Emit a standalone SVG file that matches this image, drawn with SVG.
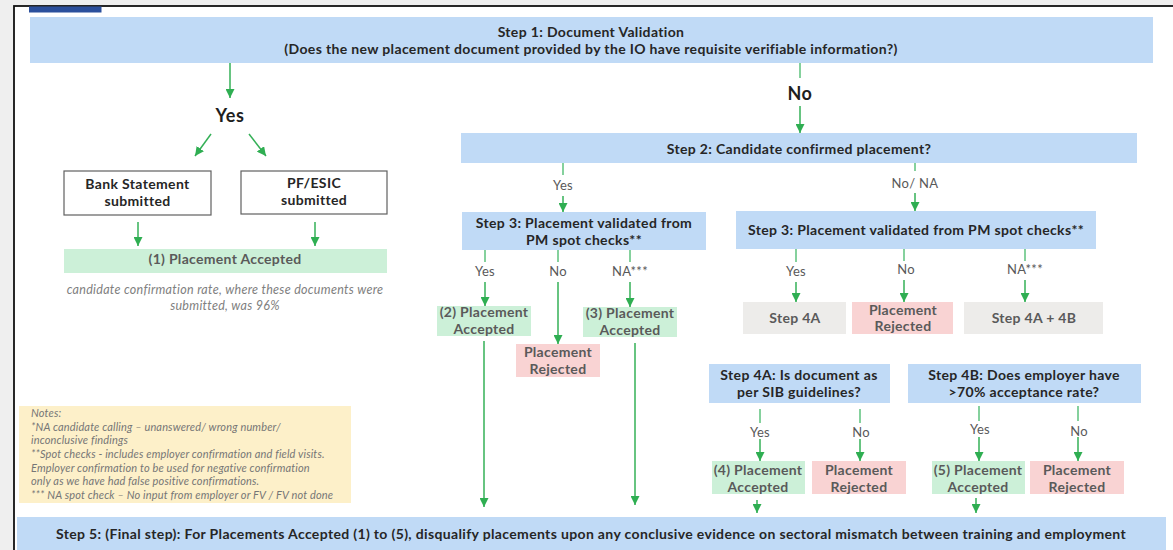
<svg xmlns="http://www.w3.org/2000/svg" width="1173" height="550" viewBox="0 0 1173 550">
  <defs>
    <marker id="ah" viewBox="0 0 10 10" refX="10" refY="5" markerWidth="9" markerHeight="9" markerUnits="userSpaceOnUse" orient="auto">
      <path d="M0,0 L10,5 L0,10 z" fill="#2fae52"/>
    </marker>
    <style>
      text { font-family: Lato, "Liberation Sans", Arial, sans-serif; }
      .step { fill: #c0daf6; }
      .hd { font-size: 14px; letter-spacing: 0.35px; font-weight: bold; fill: #262626; text-anchor: middle; }
      .big { font-size: 18px; letter-spacing: 0.6px; font-weight: bold; fill: #1e1e1e; text-anchor: middle; }
      .lbl { font-size: 13px; letter-spacing: 0.3px; fill: #595959; text-anchor: middle; }
      .res { font-size: 14px; letter-spacing: 0.3px; font-weight: bold; fill: #5a5a5a; text-anchor: middle; }
      .ok { fill: #ccf0d8; }
      .bad { fill: #f9d3d3; }
      .grey { fill: #edecea; }
      .doc { fill: #ffffff; stroke: #606060; stroke-width: 1.2; }
      .note { font-size: 11px; letter-spacing: 0.15px; font-style: italic; fill: #767676; }
      .cap { font-size: 12.5px; letter-spacing: 0.3px; font-style: italic; fill: #808080; text-anchor: middle; }
      .ln { stroke: #5cc27c; stroke-width: 1.5; fill: none; }
      .ar { stroke: #35b057; stroke-width: 1.5; fill: none; marker-end: url(#ah); }
    </style>
  </defs>

  <!-- page background and frame -->
  <rect x="0" y="0" width="1173" height="550" fill="#efefef"/>
  <rect x="14" y="6" width="1170" height="560" fill="#ffffff" stroke="#111111" stroke-width="1.8"/>
  <rect x="29" y="6.5" width="72.5" height="6" fill="#2b4f9c"/>

  <!-- connectors -->
  <g id="connectors">
    <line class="ar" x1="230" y1="63" x2="230" y2="98"/>
    <line class="ln" x1="800" y1="63" x2="800" y2="78"/>
    <line class="ar" x1="800" y1="106" x2="800" y2="133"/>
    <line class="ar" x1="211" y1="134" x2="195" y2="156"/>
    <line class="ar" x1="249" y1="134" x2="266" y2="156"/>
    <line class="ar" x1="138" y1="222" x2="138" y2="246"/>
    <line class="ar" x1="315" y1="222" x2="315" y2="246"/>

    <line class="ln" x1="563" y1="163" x2="563" y2="175"/>
    <line class="ar" x1="563" y1="196" x2="563" y2="212"/>
    <line class="ln" x1="915" y1="163" x2="915" y2="171"/>
    <line class="ar" x1="915" y1="193" x2="915" y2="211"/>

    <line class="ln" x1="485" y1="250" x2="485" y2="262"/>
    <line class="ar" x1="485" y1="282" x2="485" y2="306"/>
    <line class="ln" x1="558" y1="250" x2="558" y2="262"/>
    <line class="ar" x1="558" y1="282" x2="558" y2="344"/>
    <line class="ln" x1="630" y1="250" x2="630" y2="262"/>
    <line class="ar" x1="630" y1="282" x2="630" y2="307"/>
    <line class="ar" x1="484" y1="341" x2="484" y2="507"/>
    <line class="ar" x1="635" y1="343" x2="635" y2="505"/>

    <line class="ln" x1="796" y1="249" x2="796" y2="262"/>
    <line class="ar" x1="796" y1="282" x2="796" y2="302"/>
    <line class="ln" x1="904" y1="249" x2="904" y2="261"/>
    <line class="ar" x1="904" y1="280" x2="904" y2="302"/>
    <line class="ln" x1="1025" y1="249" x2="1025" y2="261"/>
    <line class="ar" x1="1025" y1="280" x2="1025" y2="302"/>

    <line class="ln" x1="760" y1="409" x2="760" y2="423"/>
    <line class="ar" x1="760" y1="439" x2="760" y2="461"/>
    <line class="ln" x1="860" y1="409" x2="860" y2="423"/>
    <line class="ar" x1="860" y1="439" x2="860" y2="461"/>
    <line class="ln" x1="979" y1="406" x2="979" y2="421"/>
    <line class="ar" x1="979" y1="437" x2="979" y2="461"/>
    <line class="ln" x1="1078" y1="406" x2="1078" y2="421"/>
    <line class="ar" x1="1078" y1="437" x2="1078" y2="461"/>

    <line class="ar" x1="757" y1="500" x2="757" y2="513"/>
    <line class="ar" x1="976" y1="498" x2="976" y2="513"/>
  </g>

  <!-- branch labels -->
  <g id="labels">
    <text class="big" x="230" y="122">Yes</text>
    <text class="big" x="800" y="100">No</text>
    <text class="lbl" x="563" y="190">Yes</text>
    <text class="lbl" x="915" y="188">No/ NA</text>
    <text class="lbl" x="485" y="276">Yes</text>
    <text class="lbl" x="558" y="276">No</text>
    <text class="lbl" x="630" y="276">NA***</text>
    <text class="lbl" x="796" y="276">Yes</text>
    <text class="lbl" x="906" y="274">No</text>
    <text class="lbl" x="1025" y="274">NA***</text>
    <text class="lbl" x="760" y="437">Yes</text>
    <text class="lbl" x="861" y="437">No</text>
    <text class="lbl" x="980" y="434">Yes</text>
    <text class="lbl" x="1079" y="436">No</text>
  </g>

  <g id="step1">
    <rect class="step" x="30" y="17" width="1123" height="46"/>
    <text class="hd" x="591" y="37">Step 1: Document Validation</text>
    <text class="hd" x="591" y="54">(Does the new placement document provided by the IO have requisite verifiable information?)</text>
  </g>

  <g id="bank">
    <rect class="doc" x="64" y="171" width="147" height="44"/>
    <text class="hd" x="137.5" y="189">Bank Statement</text>
    <text class="hd" x="137.5" y="206">submitted</text>
  </g>
  <g id="pfesic">
    <rect class="doc" x="241" y="171" width="146" height="43"/>
    <text class="hd" x="314" y="188">PF/ESIC</text>
    <text class="hd" x="314" y="205">submitted</text>
  </g>

  <g id="accepted1">
    <rect class="ok" x="64" y="249" width="323" height="24"/>
    <text class="res" x="225" y="264">(1) Placement Accepted</text>
    <text class="cap" x="225" y="294">candidate confirmation rate, where these documents were</text>
    <text class="cap" x="225" y="310">submitted, was 96%</text>
  </g>

  <g id="step2">
    <rect class="step" x="461" y="133" width="676" height="30"/>
    <text class="hd" x="799" y="154">Step 2: Candidate confirmed placement?</text>
  </g>

  <g id="step3a">
    <rect class="step" x="462" y="212" width="244" height="38"/>
    <text class="hd" x="584" y="228">Step 3: Placement validated from</text>
    <text class="hd" x="584" y="245">PM spot checks**</text>
  </g>

  <g id="accepted2">
    <rect class="ok" x="437" y="306" width="94" height="30"/>
    <text class="res" x="484" y="317">(2) Placement</text>
    <text class="res" x="484" y="334">Accepted</text>
  </g>
  <g id="rejected3a">
    <rect class="bad" x="516" y="344" width="84" height="33"/>
    <text class="res" x="558" y="357">Placement</text>
    <text class="res" x="558" y="374">Rejected</text>
  </g>
  <g id="accepted3">
    <rect class="ok" x="583" y="307" width="94" height="30"/>
    <text class="res" x="630" y="318">(3) Placement</text>
    <text class="res" x="630" y="335">Accepted</text>
  </g>

  <g id="step3b">
    <rect class="step" x="736" y="211" width="360" height="38"/>
    <text class="hd" x="916" y="235">Step 3: Placement validated from PM spot checks**</text>
  </g>

  <g id="go4a">
    <rect class="grey" x="743" y="302" width="103" height="32"/>
    <text class="res" x="795" y="323">Step 4A</text>
  </g>
  <g id="rejected3b">
    <rect class="bad" x="852" y="302" width="101" height="32"/>
    <text class="res" x="903" y="315">Placement</text>
    <text class="res" x="903" y="331">Rejected</text>
  </g>
  <g id="go4a4b">
    <rect class="grey" x="964" y="302" width="139" height="32"/>
    <text class="res" x="1034" y="323">Step 4A + 4B</text>
  </g>

  <g id="step4a">
    <rect class="step" x="709" y="364" width="181" height="39"/>
    <text class="hd" x="799" y="380">Step 4A: Is document as</text>
    <text class="hd" x="799" y="397">per SIB guidelines?</text>
  </g>
  <g id="step4b">
    <rect class="step" x="908" y="364" width="233" height="39"/>
    <text class="hd" x="1024" y="380">Step 4B: Does employer have</text>
    <text class="hd" x="1024" y="397">&gt;70% acceptance rate?</text>
  </g>

  <g id="accepted4">
    <rect class="ok" x="712" y="461" width="93" height="33"/>
    <text class="res" x="758" y="475">(4) Placement</text>
    <text class="res" x="758" y="492">Accepted</text>
  </g>
  <g id="rejected4a">
    <rect class="bad" x="812" y="461" width="94" height="33"/>
    <text class="res" x="859" y="475">Placement</text>
    <text class="res" x="859" y="492">Rejected</text>
  </g>
  <g id="accepted5">
    <rect class="ok" x="932" y="461" width="93" height="33"/>
    <text class="res" x="978" y="475">(5) Placement</text>
    <text class="res" x="978" y="492">Accepted</text>
  </g>
  <g id="rejected4b">
    <rect class="bad" x="1030" y="461" width="94" height="33"/>
    <text class="res" x="1077" y="475">Placement</text>
    <text class="res" x="1077" y="492">Rejected</text>
  </g>

  <g id="notes">
    <rect x="19" y="406" width="332" height="97" fill="#fdf0c9"/>
    <text class="note" x="31" y="417">Notes:</text>
    <text class="note" x="31" y="431">*NA candidate calling – unanswered/ wrong number/</text>
    <text class="note" x="31" y="444">inconclusive findings</text>
    <text class="note" x="31" y="458">**Spot checks - includes employer confirmation and field visits.</text>
    <text class="note" x="31" y="472">Employer confirmation to be used for negative confirmation</text>
    <text class="note" x="31" y="485">only as we have had false positive confirmations.</text>
    <text class="note" x="31" y="499">*** NA spot check – No input from employer or FV / FV not done</text>
  </g>

  <g id="step5">
    <rect class="step" x="17" y="517" width="1149" height="40"/>
    <text class="hd" x="591" y="539">Step 5: (Final step): For Placements Accepted (1) to (5), disqualify placements upon any conclusive evidence on sectoral mismatch between training and employment</text>
  </g>
</svg>
